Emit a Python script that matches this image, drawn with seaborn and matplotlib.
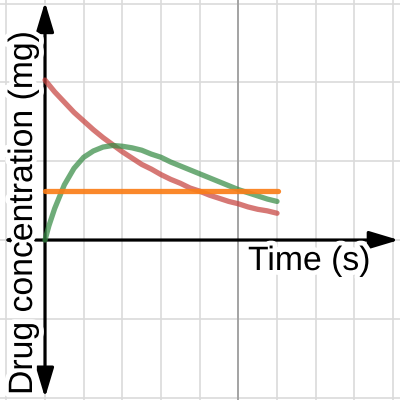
import numpy as np
import pandas as pd
import matplotlib
matplotlib.use("Agg")
import matplotlib.pyplot as plt
import matplotlib.patheffects as pe
import seaborn as sns

# values (x in grid units, y in grid units)
time_pts = [0, 0.1, 0.25, 0.5, 0.75, 1.0, 1.25, 1.5, 1.75, 2.0, 2.25, 2.5, 2.75,
            3.0, 3.25, 3.5, 3.75, 4.0, 4.25, 4.5, 4.75, 5.0, 5.25, 5.5, 5.75, 6.0]
red_conc = [2.03, 1.97, 1.88, 1.75, 1.62, 1.51, 1.40, 1.30, 1.21, 1.12, 1.04, 0.96, 0.90,
            0.83, 0.77, 0.72, 0.66, 0.62, 0.57, 0.53, 0.49, 0.46, 0.42, 0.39, 0.37, 0.34]
green_conc = [0.0, 0.18, 0.40, 0.70, 0.91, 1.05, 1.13, 1.18, 1.20, 1.19, 1.17, 1.14, 1.09,
              1.05, 0.99, 0.94, 0.89, 0.84, 0.79, 0.74, 0.69, 0.64, 0.60, 0.56, 0.52, 0.49]
orange_time = [0, 6.03]
orange_conc = [0.62, 0.62]

sns.set_style("white")
plt.rcParams['font.family'] = ['Liberation Sans', 'DejaVu Sans']

fig = plt.figure(figsize=(4, 4), dpi=100)
ax = fig.add_axes([0, 0, 1, 1])

# grid
for gx in range(-1, 10):
    ax.axvline(gx, color="#dadada", lw=1.2, zorder=0)
for gy in range(-2, 4):
    ax.axhline(gy, color="#dadada", lw=1.2, zorder=0)
ax.axvline(5, color="#9a9a9a", lw=1.2, zorder=0.5)

# axes with arrows
arrow = dict(arrowstyle="<|-|>,head_length=1.2,head_width=0.36", mutation_scale=15,
             lw=2.3, color="black", shrinkA=0, shrinkB=0)
ax.annotate("", xy=(9.15, 0), xytext=(-1.1, 0), arrowprops=arrow, zorder=2)
ax.annotate("", xy=(0, 3.02), xytext=(0, -2.0), arrowprops=arrow, zorder=2)

df = pd.DataFrame({
    "t": time_pts * 2,
    "c": red_conc + green_conc,
    "drug": ["red"] * len(time_pts) + ["green"] * len(time_pts),
})
sns.lineplot(data=df, x="t", y="c", hue="drug", palette={"red": "#c74440", "green": "#388c46"},
             lw=3.8, alpha=0.72, solid_capstyle="round", legend=False, ax=ax, zorder=3)
sns.lineplot(x=orange_time, y=orange_conc, color="#fa7e19", lw=3.8, alpha=0.92,
             solid_capstyle="round", ax=ax, zorder=3)
ax.set_xlim(-1.164, 9.18)
ax.set_ylim(-2.03, 3.046)
ax.axis("off")

halo = [pe.withStroke(linewidth=7, foreground="white")]
fig.text(248 / 400, 1 - 270 / 400, "Time (s)", fontsize=24.3, ha="left", va="baseline",
         color="black", path_effects=halo, zorder=5)
fig.text(32 / 400, 1 - 395 / 400, "Drug concentration (mg)", fontsize=24.3, rotation=90,
         rotation_mode="anchor", ha="left", va="baseline", color="black",
         path_effects=halo, zorder=5)

fig.savefig("out.png", dpi=100)
